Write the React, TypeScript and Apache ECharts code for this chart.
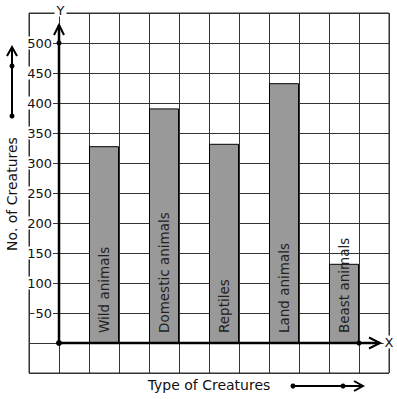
import React, { useEffect, useRef } from "react";
import * as echarts from "echarts";

const categories = ["Wild animals", "Domestic animals", "Reptiles", "Land animals", "Beast animals"];
const values = [328, 391, 332, 433, 132];
const xPositions = [1.5, 3.5, 5.5, 7.5, 9.5];
const yTickLabels = [50, 100, 150, 200, 250, 300, 350, 400, 450, 500];

const xAxisTitle = "Type of Creatures";
const yAxisTitle = "No. of Creatures";

const FONT = "DejaVu Sans";

export default function App() {
  const ref = useRef<HTMLDivElement>(null);
  useEffect(() => {
    const chart = echarts.init(ref.current!, null, { renderer: "svg" });
    const lineColor = "#333";
    const option: any = {
      animation: false,
      textStyle: { fontFamily: FONT },
      grid: { left: 29, top: 13, width: 360, height: 360, show: true, borderColor: lineColor, borderWidth: 1 },
      xAxis: {
        type: "value",
        min: -1,
        max: 11,
        interval: 1,
        axisLine: { show: false, onZero: false },
        axisTick: { show: false },
        axisLabel: { show: false },
        splitLine: { show: true, lineStyle: { color: lineColor, width: 1 } },
      },
      yAxis: {
        type: "value",
        min: -50,
        max: 550,
        interval: 50,
        axisLine: { show: false, onZero: false },
        axisTick: { show: false },
        splitLine: { show: true, lineStyle: { color: lineColor, width: 1 } },
        axisLabel: {
          margin: -24,
          align: "right",
          formatter: (v: number) => (yTickLabels.indexOf(v) >= 0 ? "{b|" + v + "}" : ""),
          rich: {
            b: {
              fontFamily: FONT,
              fontSize: 13,
              color: "#111",
              backgroundColor: "#fff",
              padding: [0, 1],
              lineHeight: 14,
            },
          },
        },
      },
      graphic: [
        {
          type: "text",
          x: 12,
          y: 194,
          rotation: Math.PI / 2,
          z: 100,
          style: {
            text: yAxisTitle,
            fontFamily: FONT,
            fontSize: 14,
            fill: "#111",
            align: "center",
            verticalAlign: "middle",
          },
        },
        {
          type: "text",
          x: 209,
          y: 385,
          z: 100,
          style: {
            text: xAxisTitle,
            fontFamily: FONT,
            fontSize: 14,
            fill: "#111",
            align: "center",
            verticalAlign: "middle",
          },
        },
        // left decorative arrow
        { type: "line", z: 100, shape: { x1: 12, y1: 116, x2: 12, y2: 47 }, style: { stroke: "#000", lineWidth: 2 } },
        { type: "polyline", z: 100, shape: { points: [[7, 56], [12, 47], [17, 56]] }, style: { stroke: "#000", lineWidth: 2, fill: null } },
        { type: "circle", z: 100, shape: { cx: 12, cy: 66, r: 2.5 }, style: { fill: "#000" } },
        { type: "circle", z: 100, shape: { cx: 12, cy: 116, r: 2.5 }, style: { fill: "#000" } },
        // bottom decorative arrow
        { type: "line", z: 100, shape: { x1: 293, y1: 386, x2: 363, y2: 386 }, style: { stroke: "#000", lineWidth: 2 } },
        { type: "polyline", z: 100, shape: { points: [[354, 381], [363, 386], [354, 391]] }, style: { stroke: "#000", lineWidth: 2, fill: null } },
        { type: "circle", z: 100, shape: { cx: 293, cy: 386, r: 2.5 }, style: { fill: "#000" } },
        { type: "circle", z: 100, shape: { cx: 343, cy: 386, r: 2.5 }, style: { fill: "#000" } },
      ],
      series: [
        {
          type: "bar",
          data: xPositions.map((x, i) => [x, values[i]]),
          barWidth: 30,
          z: 3,
          itemStyle: { color: "#999", borderColor: "#000", borderWidth: 1 },
          label: {
            show: true,
            position: "insideBottom",
            rotate: 90,
            align: "left",
            verticalAlign: "middle",
            distance: 10,
            fontFamily: FONT,
            fontSize: 13.5,
            color: "#222",
            formatter: (p: any) => categories[p.dataIndex],
          },
        },
        {
          type: "custom",
          z: 10,
          clip: false,
          data: [[0, 0]],
          renderItem: (_params: any, api: any) => {
            const o = api.coord([0, 0]);
            const yt = api.coord([0, 530]);
            const xr = api.coord([10.7, 0]);
            const y500 = api.coord([0, 500]);
            const x10 = api.coord([10, 0]);
            const top = api.coord([0, 550]);
            const right = api.coord([11, 0]);
            const s = { stroke: "#000", lineWidth: 2.5, fill: null };
            return {
              type: "group",
              children: [
                { type: "line", shape: { x1: o[0], y1: o[1], x2: o[0], y2: yt[1] }, style: s },
                { type: "line", shape: { x1: o[0], y1: o[1], x2: xr[0], y2: o[1] }, style: s },
                { type: "polyline", shape: { points: [[yt[0] - 5, yt[1] + 10], [yt[0], yt[1]], [yt[0] + 5, yt[1] + 10]] }, style: { stroke: "#000", lineWidth: 2, fill: null } },
                { type: "polyline", shape: { points: [[xr[0] - 11, xr[1] - 5.5], [xr[0], xr[1]], [xr[0] - 11, xr[1] + 5.5]] }, style: { stroke: "#000", lineWidth: 2, fill: null } },
                { type: "circle", shape: { cx: o[0], cy: o[1], r: 3 }, style: { fill: "#000" } },
                { type: "circle", shape: { cx: y500[0], cy: y500[1], r: 2.5 }, style: { fill: "#000" } },
                { type: "circle", shape: { cx: x10[0], cy: x10[1], r: 2.5 }, style: { fill: "#000" } },
                {
                  type: "text",
                  x: o[0] + 1.5,
                  y: top[1] - 3,
                  style: { text: "Y", fontFamily: FONT, fontSize: 13, fill: "#111", align: "center", verticalAlign: "middle", backgroundColor: "#fff", padding: [0, 2] },
                },
                {
                  type: "text",
                  x: right[0],
                  y: o[1] - 1,
                  style: { text: "X", fontFamily: FONT, fontSize: 13, fill: "#111", align: "center", verticalAlign: "middle", backgroundColor: "#fff", padding: [0, 1] },
                },
              ],
            };
          },
        },
      ],
    };
    chart.setOption(option);
    return () => chart.dispose();
  }, []);
  return <div ref={ref} style={{ width: 397, height: 399, position: "absolute", left: 0, top: 0 }} />;
}
